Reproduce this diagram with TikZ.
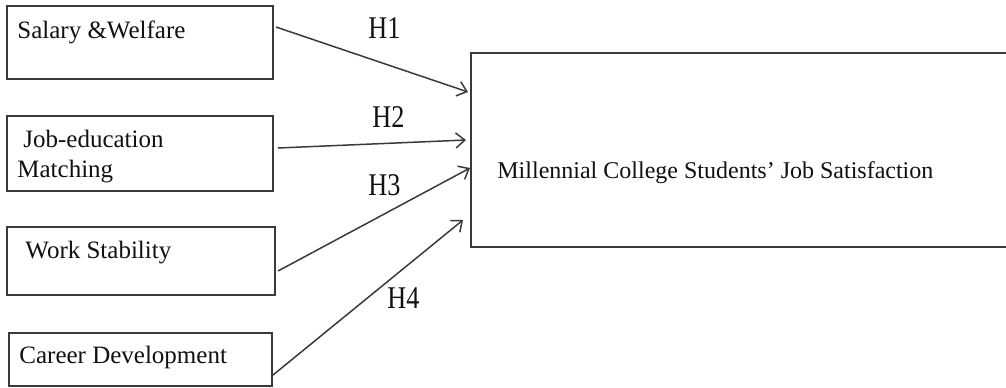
\documentclass[tikz,border=0pt]{standalone}
\usepackage{fontspec}
\setmainfont{Liberation Serif}
\usetikzlibrary{arrows.meta}
\definecolor{linegray}{HTML}{3A3A3A}
\definecolor{txt}{HTML}{111111}
\tikzset{
  factorbox/.style={draw=linegray, line width=1pt, rectangle, inner sep=0pt},
  lbl/.style={anchor=base west, inner sep=0pt, text=txt, font=\fontsize{12.5}{15}\selectfont},
  hlbl/.style={lbl, font=\fontsize{15.8}{18}\selectfont},
  arr/.style={draw=linegray, line width=0.75pt, -{Straight Barb[length=4.5pt,width=7.5pt]}}
}
\newcommand{\hyp}[1]{\scalebox{0.83}[1]{#1}}
\begin{document}
\begin{tikzpicture}[x=0.5pt,y=-0.5pt]
\clip (0,0) rectangle (1006,387);
\fill[white] (0,0) rectangle (1006,387);
% boxes
\node[factorbox, minimum width=133pt, minimum height=36.5pt] (b1) at (140,42.5) {};
\node[factorbox, minimum width=133pt, minimum height=37.5pt] (b2) at (140,153.5) {};
\node[factorbox, minimum width=134pt, minimum height=34pt] (b3) at (141,261) {};
\node[factorbox, minimum width=131.5pt, minimum height=26.5pt] (b4) at (140.5,359.5) {};
\node[factorbox, minimum width=300pt, minimum height=97pt, anchor=west] (big) at (470,150) {};
% texts
\node[lbl] (t1) at (17,38) {Salary \&Welfare};
\node[lbl] (t2a) at (23,147) {Job-education};
\node[lbl] (t2b) at (17,177) {Matching};
\node[lbl] (t3) at (25,258) {Work Stability};
\node[lbl] (t4) at (19,363) {Career Development};
\node[lbl, font=\fontsize{12}{14}\selectfont] (t5) at (497,178) {Millennial College Students’ Job Satisfaction};
% hypothesis labels
\node[hlbl] (h1) at (368,38) {\hyp{H1}};
\node[hlbl] (h2) at (372,127) {\hyp{H2}};
\node[hlbl] (h3) at (368,195) {\hyp{H3}};
\node[hlbl] (h4) at (387,308) {\hyp{H4}};
% arrows
\draw[arr] ([xshift=1pt,yshift=7.75pt]b1.east) -- ([xshift=-1pt,yshift=29pt]big.west);
\draw[arr] ([xshift=2pt,yshift=2.75pt]b2.east) -- ([xshift=-2pt,yshift=5pt]big.west);
\draw[arr] ([xshift=1pt,yshift=-5pt]b3.east) -- ([xshift=0pt,yshift=-9pt]big.west);
\draw[arr] ([yshift=-7.75pt]b4.east) -- ([xshift=-3.5pt,yshift=-35pt]big.west);
\end{tikzpicture}
\end{document}
